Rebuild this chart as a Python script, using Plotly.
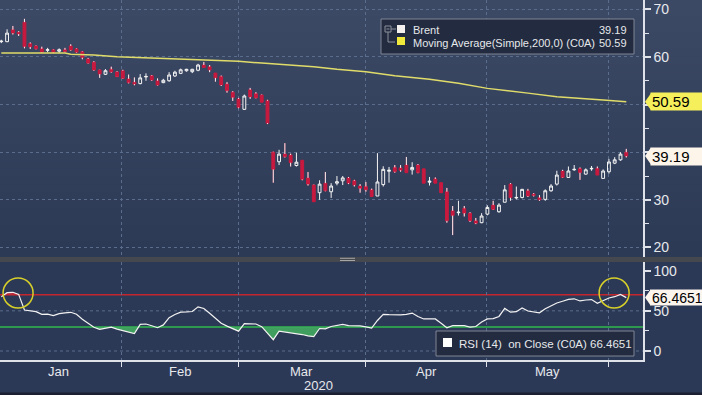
import plotly.graph_objects as go

# ---------------- data ----------------
candle_idx = list(range(109))
opens = [63.2, 63.2, 65.7, 65.2, 67.3, 62.8, 62.3, 61.7, 61.4, 61.5,
         61.2, 61.5, 62.3, 61.7, 61.1, 59.6, 58.9, 57.25, 56.35, 57.4,
         56.85, 57.1, 55.4, 54.7, 54.4, 55.8, 56.05, 55.0, 54.6, 55.0,
         56.0, 56.55, 57.1, 56.9, 57.2, 58.3, 57.95, 56.6, 55.9, 54.3,
         52.6, 51.2, 49.0, 53.1, 52.3, 52.0, 50.8, 40.0, 38.0, 39.6,
         39.4, 37.2, 38.3, 34.6, 33.1, 31.5, 33.5, 31.7, 33.5, 34.0,
         34.6, 34.0, 32.9, 32.8, 32.1, 30.8, 33.2, 36.0, 36.8, 36.7,
         37.3, 36.3, 37.3, 36.5, 33.7, 34.4, 33.6, 31.7, 27.7, 27.3,
         28.2, 27.2, 25.6, 25.2, 27.0, 28.9, 27.5, 29.5, 33.3, 30.4,
         30.5, 31.9, 31.2, 30.45, 30.1, 31.9, 33.3, 36.05, 34.7, 36.3,
         36.55, 35.4, 36.5, 36.6, 34.5, 35.9, 37.7, 38.4, 40.0]
highs = [63.6, 65.8, 66.5, 65.4, 68.0, 63.05, 62.4, 62.15, 61.9, 61.6,
         61.8, 61.9, 62.65, 61.8, 61.2, 59.8, 59.1, 57.3, 57.45, 57.95,
         57.0, 57.3, 56.3, 55.7, 56.4, 56.55, 56.2, 55.5, 55.4, 56.8,
         57.1, 57.55, 57.5, 57.5, 58.55, 58.95, 58.3, 56.6, 56.1, 54.7,
         52.8, 51.4, 52.1, 53.5, 52.6, 52.1, 51.0, 40.1, 40.5, 41.9,
         39.7, 39.9, 38.3, 35.85, 33.2, 34.1, 35.85, 33.5, 35.0, 35.0,
         34.8, 34.2, 33.3, 33.75, 32.35, 39.8, 37.05, 36.9, 37.3, 37.3,
         39.0, 37.9, 37.5, 36.5, 34.8, 34.7, 33.6, 32.5, 28.7, 29.8,
         28.7, 27.4, 26.2, 27.2, 28.85, 29.8, 29.3, 33.1, 33.5, 32.8,
         32.3, 32.3, 31.4, 31.0, 32.2, 33.3, 36.1, 36.3, 37.0, 37.3,
         36.8, 36.6, 37.1, 37.0, 36.4, 38.6, 38.95, 40.0, 40.7]
lows = [62.9, 63.1, 64.7, 64.4, 61.8, 61.67, 61.6, 60.9, 60.97, 60.8,
        60.8, 61.0, 61.3, 60.9, 59.5, 58.6, 57.1, 55.6, 56.2, 56.7,
        55.8, 55.4, 54.45, 54.05, 54.25, 55.0, 55.0, 54.0, 54.5, 54.8,
        55.8, 56.4, 56.9, 56.6, 57.0, 57.8, 56.8, 54.8, 53.9, 52.5,
        50.75, 49.2, 48.9, 51.2, 51.3, 50.5, 45.9, 33.6, 37.3, 38.9,
        37.0, 37.0, 34.1, 33.0, 29.6, 30.0, 31.8, 30.4, 33.05, 33.1,
        33.3, 32.8, 31.5, 31.7, 30.7, 30.8, 32.8, 33.6, 35.7, 35.9,
        35.7, 35.3, 35.6, 33.5, 33.0, 33.5, 31.5, 25.2, 22.6, 26.7,
        26.5, 25.35, 24.9, 25.1, 26.75, 27.9, 27.3, 29.5, 29.8, 30.1,
        30.3, 30.6, 30.7, 29.8, 29.8, 31.7, 33.0, 34.6, 34.6, 36.1,
        34.2, 35.3, 36.1, 35.2, 34.5, 35.5, 37.5, 38.2, 38.9]
closes = [63.3, 65.0, 65.0, 64.8, 62.15, 62.1, 61.7, 61.0, 61.5, 60.9,
          61.5, 61.1, 61.45, 61.0, 59.85, 58.7, 57.25, 56.4, 57.1, 56.85,
          55.85, 55.5, 54.6, 54.3, 55.6, 55.9, 55.15, 54.1, 55.1, 56.2,
          56.8, 57.3, 57.4, 57.4, 58.3, 57.8, 57.25, 55.6, 54.1, 52.9,
          51.5, 49.4, 51.8, 51.6, 51.4, 50.5, 46.1, 36.4, 39.6, 39.05,
          37.8, 37.9, 34.3, 33.3, 29.6, 33.3, 31.9, 32.9, 33.8, 34.6,
          33.5, 33.1, 32.4, 32.1, 30.7, 33.75, 36.4, 36.2, 35.9, 36.2,
          35.7, 36.8, 35.7, 33.5, 33.9, 33.5, 31.5, 25.6, 26.7, 27.4,
          27.2, 25.6, 25.1, 26.6, 28.4, 28.0, 28.9, 32.1, 30.45, 30.5,
          32.2, 30.8, 30.9, 30.0, 31.9, 32.9, 35.2, 34.7, 36.05, 36.4,
          35.7, 36.3, 36.6, 35.2, 36.05, 37.95, 38.4, 39.6, 39.19]

ma_idx = [0, 11, 12, 16, 20, 27, 32, 37, 41, 45, 54, 58, 63, 68, 74, 79, 84, 91, 96, 104, 108]
ma_vals = [60.83, 60.8, 60.55, 60.4, 60.05, 59.7, 59.5, 59.2, 59.1, 58.7, 57.95, 57.4,
           56.9, 56.05, 55.3, 54.45, 53.4, 52.4, 51.65, 50.96, 50.59]

rsi_vals = [67.5, 72.6, 73.1, 70.5, 51.0, 50.2, 49.0, 45.7, 45.8, 44.0,
            46.6, 47.5, 48.2, 45.8, 39.5, 34.5, 29.5, 27.0, 28.6, 29.6,
            27.3, 25.5, 23.5, 21.8, 33.2, 33.6, 31.5, 29.0, 32.5, 41.5,
            45.5, 48.3, 48.6, 49.2, 55.0, 53.0, 47.0, 41.0, 34.6, 31.0,
            27.5, 24.7, 34.0, 34.0, 33.6, 30.3, 22.0, 14.1, 24.8, 23.8,
            22.8, 22.0, 20.5, 18.8, 17.8, 28.0, 27.6, 30.5, 32.3, 33.2,
            31.5, 31.5, 31.2, 30.0, 28.5, 38.0, 45.7, 45.2, 44.8, 45.0,
            45.5, 47.2, 43.0, 39.9, 39.9, 39.9, 34.5, 29.0, 31.5, 31.5,
            31.5, 29.8, 30.5, 36.0, 40.0, 40.3, 43.0, 53.0, 48.3, 49.0,
            53.5, 49.8, 48.7, 47.5, 52.5, 56.0, 59.8, 62.0, 64.2, 65.0,
            62.3, 63.5, 64.0, 59.5, 62.5, 66.0, 67.6, 70.4, 66.4651]

month_names = ["Jan", "Feb", "Mar", "Apr", "May"]
month_bounds = [-1.25, 20.85, 41.07, 62.85, 83.93, 105.0]
year_label = "2020"
price_ticks = [20, 30, 40, 50, 60, 70]
price_ticktext = ["20", "30", "", "", "60", "70"]   # 40 and 50 sit under the callouts
rsi_ticks = [0, 50, 100]
rsi_upper, rsi_lower = 70, 30
last_close = closes[-1]
last_ma = ma_vals[-1]
last_rsi = rsi_vals[-1]
highlight_idx = [2.9, 105.9]
highlight_rsi = 72.2

# ---------------- layout constants ----------------
W, H = 702, 395
MR, MB = 59, 35
PW, PH = W - MR, H - MB


def xp(px):
    return px / PW


def yp(py):
    return (PH - py) / PH


dom_top = [yp(257), 1.0]
dom_rsi = [0.0, yp(262)]
x_range = [-0.225, 110.89]
y_range = [18.0, 71.95]
y2_range = [-11.2, 110.8]

BG = "#2b3854"
GRID = "#5a6d8c"
TXT = "#e6e8ec"
AXIS = "#dfe2e8"
RED_C = "#c8193f"
FONT = "Liberation Sans"

fig = go.Figure()

# candlesticks
fig.add_trace(go.Candlestick(
    x=candle_idx, open=opens, high=highs, low=lows, close=closes,
    increasing=dict(line=dict(color="#f4f4f4", width=1), fillcolor="rgba(0,0,0,0)"),
    decreasing=dict(line=dict(color=RED_C, width=1), fillcolor=RED_C),
    whiskerwidth=0, showlegend=False, hoverinfo="skip", xaxis="x", yaxis="y"))

# white wicks on red candles
wx, wy = [], []
for i, o, h, l, c in zip(candle_idx, opens, highs, lows, closes):
    if c < o:
        if h > o:
            wx += [i, i, None]
            wy += [h, o, None]
        if l < c:
            wx += [i, i, None]
            wy += [c, l, None]
fig.add_trace(go.Scatter(x=wx, y=wy, mode="lines", line=dict(color="#f4f4f4", width=1),
                         hoverinfo="skip", showlegend=False, xaxis="x", yaxis="y"))

# moving average
fig.add_trace(go.Scatter(x=ma_idx, y=ma_vals, mode="lines",
                         line=dict(color="#e0dc6a", width=1.5),
                         hoverinfo="skip", showlegend=False, xaxis="x", yaxis="y"))


# RSI fills
def clipped(xs, ys, level, below=True):
    fx, fy = [], []
    for k in range(len(xs)):
        if k > 0:
            a, b = ys[k - 1], ys[k]
            if (a - level) * (b - level) < 0:
                t = (level - a) / (b - a)
                fx.append(xs[k - 1] + t * (xs[k] - xs[k - 1]))
                fy.append(level)
        fx.append(xs[k])
        fy.append(min(ys[k], level) if below else max(ys[k], level))
    return fx, fy


for level, below, col in [(rsi_lower, True, "rgba(66,168,96,0.92)"),
                          (rsi_upper, False, "rgba(200,40,55,0.85)")]:
    fx, fy = clipped(candle_idx, rsi_vals, level, below)
    fig.add_trace(go.Scatter(x=fx, y=[level] * len(fx), mode="lines", line=dict(width=0),
                             hoverinfo="skip", showlegend=False, xaxis="x2", yaxis="y2"))
    fig.add_trace(go.Scatter(x=fx, y=fy, mode="lines", line=dict(width=0), fill="tonexty",
                             fillcolor=col, hoverinfo="skip", showlegend=False,
                             xaxis="x2", yaxis="y2"))

fig.add_trace(go.Scatter(x=candle_idx, y=rsi_vals, mode="lines",
                         line=dict(color="#f2f2f2", width=1.2),
                         hoverinfo="skip", showlegend=False, xaxis="x2", yaxis="y2"))

# ---------------- shapes ----------------
shapes = []
N = 32
top_c = (60, 73, 101)
bot_c = (45, 58, 86)
for k in range(N):
    t = k / (N - 1)
    c = tuple(round(bot_c[j] + (top_c[j] - bot_c[j]) * t) for j in range(3))
    y0 = dom_top[0] + (1 - dom_top[0]) * k / N
    y1 = dom_top[0] + (1 - dom_top[0]) * (k + 1) / N
    shapes.append(dict(type="rect", xref="paper", yref="paper", x0=0, x1=W / PW,
                       y0=y0, y1=y1 + 0.002, fillcolor="rgb(%d,%d,%d)" % c,
                       line=dict(width=0), layer="below"))
shapes.append(dict(type="rect", xref="paper", yref="paper", x0=0, x1=W / PW,
                   y0=dom_rsi[0] - MB / PH, y1=dom_rsi[1], fillcolor="#2c3956",
                   line=dict(width=0), layer="below"))

# RSI gridlines and levels
for g in [0, 50]:
    shapes.append(dict(type="line", xref="paper", yref="y2", x0=0, x1=1, y0=g, y1=g,
                       line=dict(color=GRID, width=1, dash="3px,3px"), layer="below"))
shapes.append(dict(type="line", xref="paper", yref="y2", x0=0, x1=1, y0=rsi_upper, y1=rsi_upper,
                   line=dict(color="#c4262e", width=1.5), layer="between"))
shapes.append(dict(type="line", xref="paper", yref="y2", x0=0, x1=1, y0=rsi_lower, y1=rsi_lower,
                   line=dict(color="#2fb84c", width=1.5), layer="between"))

# separator between panels
shapes.append(dict(type="rect", xref="paper", yref="paper", x0=0, x1=W / PW,
                   y0=dom_rsi[1], y1=dom_top[0], fillcolor="#45494f",
                   line=dict(width=0), layer="above"))
for hy in [258.3, 260.5]:
    shapes.append(dict(type="line", xref="paper", yref="paper", x0=xp(340), x1=xp(355),
                       y0=yp(hy), y1=yp(hy), line=dict(color="#a6a6a6", width=1), layer="above"))
# bottom dark strip
shapes.append(dict(type="rect", xref="paper", yref="paper", x0=0, x1=W / PW,
                   y0=yp(395), y1=yp(392.5), fillcolor="#1c2030", line=dict(width=0), layer="above"))

# legend boxes
shapes.append(dict(type="rect", xref="paper", yref="paper", x0=xp(381), x1=xp(634),
                   y0=yp(54), y1=yp(19), fillcolor="#222b3f",
                   line=dict(color="#7e8595", width=1), layer="above"))
shapes.append(dict(type="rect", xref="paper", yref="paper", x0=xp(397), x1=xp(405),
                   y0=yp(33), y1=yp(25), fillcolor="#f4f0f0", line=dict(width=0), layer="above"))
shapes.append(dict(type="rect", xref="paper", yref="paper", x0=xp(397), x1=xp(405),
                   y0=yp(45), y1=yp(37), fillcolor="#f0e83a", line=dict(width=0), layer="above"))
icon = dict(color="#8c919b", width=1)
shapes.append(dict(type="rect", xref="paper", yref="paper", x0=xp(385), x1=xp(391),
                   y0=yp(32), y1=yp(26), line=icon, layer="above"))
for (ax0, ay0, ax1, ay1) in [(386.5, 29, 389.5, 29), (388, 32, 388, 42), (388, 42, 395, 42),
                             (391, 29, 396, 29)]:
    shapes.append(dict(type="line", xref="paper", yref="paper", x0=xp(ax0), x1=xp(ax1),
                       y0=yp(ay0), y1=yp(ay1), line=icon, layer="above"))

shapes.append(dict(type="rect", xref="paper", yref="paper", x0=xp(436), x1=xp(634),
                   y0=yp(356), y1=yp(331), fillcolor="#222b3f",
                   line=dict(color="#7e8595", width=1), layer="above"))
shapes.append(dict(type="rect", xref="paper", yref="paper", x0=xp(443), x1=xp(452),
                   y0=yp(347), y1=yp(338), fillcolor="#ffffff", line=dict(width=0), layer="above"))

# highlight circles
for hx in highlight_idx:
    shapes.append(dict(type="circle", xref="x2", yref="y2", xsizemode="pixel", ysizemode="pixel",
                       xanchor=hx, yanchor=highlight_rsi, x0=-15, x1=15, y0=-15, y1=15,
                       line=dict(color="#d8d02a", width=1.5), layer="above"))

# callouts
callouts = [("y", last_ma, "%.2f" % last_ma, "#f5ef5b", 15, 15),
            ("y", last_close, "%.2f" % last_close, "#fdf5ea", 15, 15),
            ("y2", last_rsi, "%.4f" % last_rsi, "#fbf5ee", 14, 13)]
annotations = []
for yref, val, txt, col, fs, hh in callouts:
    shapes.append(dict(type="path", xref="paper", yref=yref, xsizemode="pixel", ysizemode="pixel",
                       xanchor=1, yanchor=val, path="M 2 0 L 8 8.5 L 8 -8.5 Z",
                       fillcolor=col, line=dict(width=0), layer="above"))
    annotations.append(dict(xref="paper", yref=yref, x=1, y=val, xanchor="left", yanchor="middle",
                            xshift=7, text=txt, showarrow=False, bgcolor=col, borderpad=1,
                            width=58, height=hh, align="left",
                            font=dict(family=FONT, size=fs, color="#000000")))

# legend texts
lg_font = dict(family=FONT, size=11, color=TXT)
annotations += [
    dict(xref="paper", yref="paper", x=xp(411), y=yp(30), xanchor="left", yanchor="middle",
         text="Brent", showarrow=False, font=lg_font),
    dict(xref="paper", yref="paper", x=xp(411), y=yp(42.5), xanchor="left", yanchor="middle",
         text="Moving Average(Simple,200,0) (C0A)", showarrow=False, font=lg_font),
    dict(xref="paper", yref="paper", x=xp(629), y=yp(30), xanchor="right", yanchor="middle",
         text="%.2f" % last_close, showarrow=False, font=lg_font),
    dict(xref="paper", yref="paper", x=xp(629), y=yp(42.5), xanchor="right", yanchor="middle",
         text="%.2f" % last_ma, showarrow=False, font=lg_font),
    dict(xref="paper", yref="paper", x=xp(457), y=yp(344), xanchor="left", yanchor="middle",
         text="RSI (14)\u00a0\u00a0on Close (C0A) %.4f" % last_rsi, showarrow=False,
         font=dict(family=FONT, size=11.5, color=TXT)),
]

# month labels
for k, name in enumerate(month_names):
    cx = (month_bounds[k] + month_bounds[k + 1]) / 2
    annotations.append(dict(xref="x2", yref="paper", x=cx, y=0, xanchor="center", yanchor="top",
                            yshift=-2, text=name, showarrow=False,
                            font=dict(family=FONT, size=13, color=TXT)))
annotations.append(dict(xref="x2", yref="paper", x=(month_bounds[2] + month_bounds[3]) / 2, y=0,
                        xanchor="center", yanchor="top", xshift=17, yshift=-16, text=year_label,
                        showarrow=False, font=dict(family=FONT, size=13, color=TXT)))

fig.update_layout(
    width=W, height=H,
    margin=dict(l=0, r=MR, t=0, b=MB, pad=0),
    paper_bgcolor=BG, plot_bgcolor="rgba(0,0,0,0)",
    font=dict(family=FONT, color=TXT),
    showlegend=False,
    shapes=shapes, annotations=annotations,
    xaxis=dict(domain=[0, 1], anchor="y", range=x_range, tickvals=month_bounds[1:],
               showticklabels=False, ticks="", showgrid=True, gridcolor=GRID, gridwidth=1,
               griddash="3px,3px", zeroline=False, showline=False,
               rangeslider=dict(visible=False)),
    xaxis2=dict(domain=[0, 1], anchor="y2", matches="x", range=x_range,
                tickvals=month_bounds[1:], showticklabels=False, ticks="outside", ticklen=5,
                tickcolor=AXIS, tickwidth=1, showgrid=True, gridcolor=GRID, gridwidth=1,
                griddash="3px,3px", zeroline=False, showline=True, linecolor=AXIS, linewidth=1.5),
    yaxis=dict(domain=dom_top, anchor="x", side="right", range=y_range, tickvals=price_ticks,
               ticktext=price_ticktext,
               ticks="outside", ticklen=6, tickwidth=2, tickcolor=AXIS,
               minor=dict(dtick=5, ticks="outside", ticklen=4, tickcolor=AXIS, tickwidth=1,
                          showgrid=False),
               showline=True, linecolor=AXIS, linewidth=1.5, showgrid=True, gridcolor=GRID,
               gridwidth=1, griddash="3px,3px", zeroline=False,
               tickfont=dict(family=FONT, size=14, color=TXT)),
    yaxis2=dict(domain=dom_rsi, anchor="x2", side="right", range=y2_range, tickvals=rsi_ticks,
                ticks="outside", ticklen=6, tickwidth=2, tickcolor=AXIS,
                minor=dict(dtick=25, ticks="outside", ticklen=4, tickcolor=AXIS, tickwidth=1,
                           showgrid=False),
                showline=True, linecolor=AXIS, linewidth=1.5, showgrid=False, zeroline=False,
                tickfont=dict(family=FONT, size=14, color=TXT)),
)

fig.write_html("out.html", config={"displayModeBar": False},
               post_script="document.body.style.margin='0';document.body.style.overflow='hidden';")
